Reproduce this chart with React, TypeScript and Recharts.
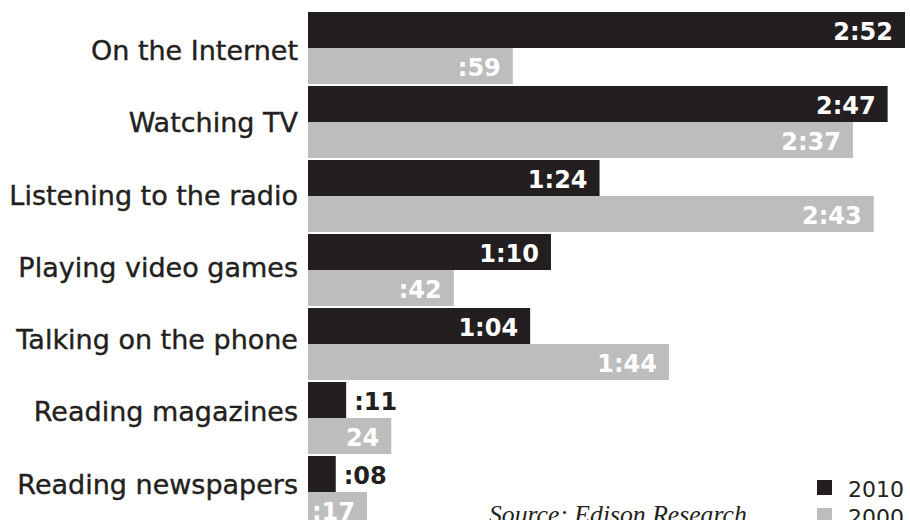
import React from "react";
import { BarChart, Bar, XAxis, YAxis, LabelList, Legend } from "recharts";

const categories = [
  "On the Internet",
  "Watching TV",
  "Listening to the radio",
  "Playing video games",
  "Talking on the phone",
  "Reading magazines",
  "Reading newspapers",
];
const minutes2010 = [172, 167, 84, 70, 64, 11, 8];
const minutes2000 = [59, 157, 163, 42, 104, 24, 17];
const labels2010 = ["2:52", "2:47", "1:24", "1:10", "1:04", ":11", ":08"];
const labels2000 = [":59", "2:37", "2:43", ":42", "1:44", "24", ":17"];
const seriesNames = ["2010", "2000"];
const sourceText = "Source: Edison Research";

const DARK = "#231f20";
const GRAY = "#bdbdbd";

const data = categories.map((name, i) => ({
  name,
  v2010: minutes2010[i],
  v2000: minutes2000[i],
}));

const makeLabel = (labels: string[]) => (props: any) => {
  const { x, y, width, height, index } = props;
  const text = labels[index];
  const baseline = y + height / 2 + 10;
  if (width < 50) {
    return (
      <text x={x + width + 8} y={baseline} fill={DARK} fontFamily="DejaVu Sans" fontWeight="bold" fontSize={24} textAnchor="start">
        {text}
      </text>
    );
  }
  return (
    <text x={x + width - 12} y={baseline} fill="#ffffff" fontFamily="DejaVu Sans" fontWeight="bold" fontSize={24} textAnchor="end">
      {text}
    </text>
  );
};

const CategoryTick = (props: any) => {
  const { y, payload } = props;
  const center = 50 + (y - 48) * 0.977;
  return (
    <text x={298} y={center + 10} fill={DARK} stroke={DARK} strokeWidth={0.4} fontFamily="DejaVu Sans" fontSize={27} textAnchor="end">
      {payload.value}
    </text>
  );
};

const LegendContent = () => (
  <svg width={93} height={60}>
    <rect x={0} y={2} width={15} height={15} fill={DARK} />
    <text x={31} y={19} fill={DARK} fontFamily="DejaVu Sans" fontSize={22}>{seriesNames[0]}</text>
    <rect x={0} y={30} width={15} height={15} fill={GRAY} />
    <text x={31} y={47} fill={DARK} fontFamily="DejaVu Sans" fontSize={22}>{seriesNames[1]}</text>
  </svg>
);

export default function App() {
  return (
    <div style={{ position: "absolute", left: 0, top: 0, width: 910, height: 520, overflow: "hidden", background: "#fff" }}>
      <BarChart
        width={910}
        height={540}
        data={data}
        layout="vertical"
        margin={{ top: 11, right: 5, bottom: 11, left: 0 }}
        barGap={0}
        barSize={36}
      >
        <XAxis type="number" domain={[0, 172]} allowDataOverflow hide />
        <YAxis type="category" dataKey="name" width={308} tickLine={false} axisLine={false} tick={<CategoryTick />} interval={0} />
        <Legend
          layout="horizontal"
          align="center"
          verticalAlign="middle"
          content={<LegendContent />}
          wrapperStyle={{ left: 817, top: 478, width: 93, height: 60 }}
        />
        <Bar dataKey="v2010" name={seriesNames[0]} fill={DARK} isAnimationActive={false}>
          <LabelList dataKey="v2010" content={makeLabel(labels2010)} />
        </Bar>
        <Bar dataKey="v2000" name={seriesNames[1]} fill={GRAY} isAnimationActive={false}>
          <LabelList dataKey="v2000" content={makeLabel(labels2000)} />
        </Bar>
      </BarChart>
      <div
        style={{
          position: "absolute",
          left: 489,
          top: 502,
          fontFamily: "'Liberation Serif', serif",
          fontStyle: "italic",
          fontSize: 25.7,
          lineHeight: "25px",
          color: DARK,
          whiteSpace: "nowrap",
        }}
      >
        {sourceText}
      </div>
    </div>
  );
}
